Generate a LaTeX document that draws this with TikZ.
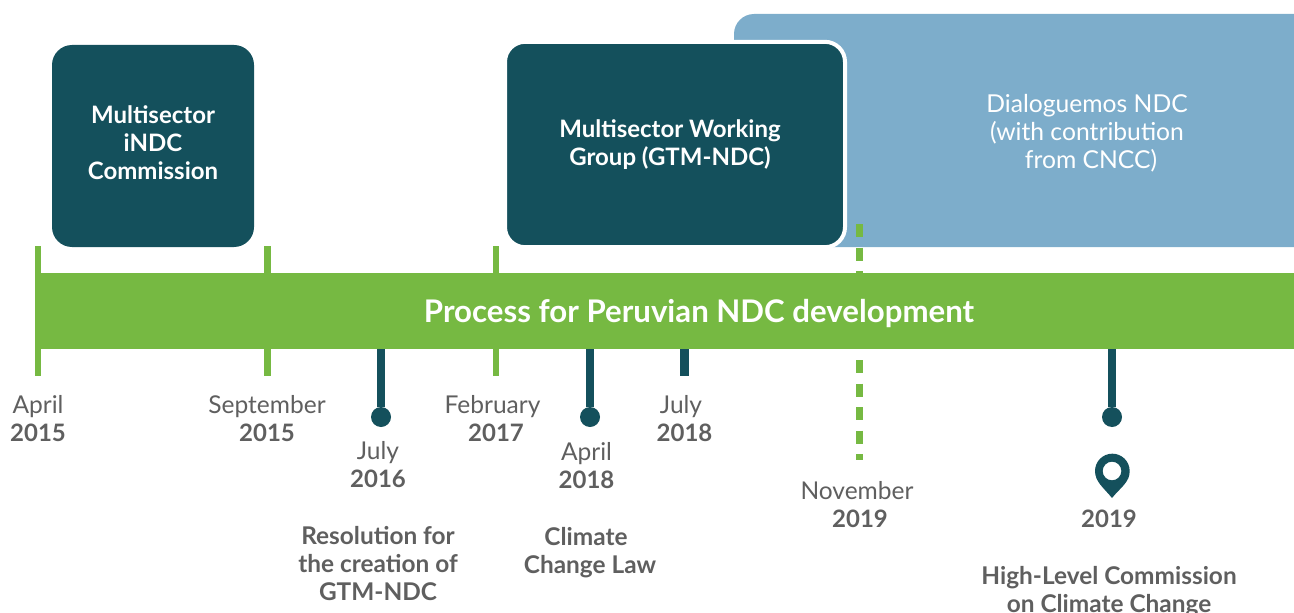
\documentclass[tikz,border=0pt]{standalone}
\usepackage{fontspec}
\setmainfont{Lato}
\definecolor{dk}{HTML}{14505C}
\definecolor{bl}{HTML}{7DADCB}
\definecolor{gr}{HTML}{76B942}
\definecolor{tx}{HTML}{5F5F5F}
\tikzset{
 x=0.75pt,y=-0.75pt,
 darkbox/.style={fill=dk,rounded corners=15pt,inner sep=0pt},
 boxtext/.style={inner sep=0pt,text=white,align=center,font=\fontsize{18}{21}\selectfont\bfseries},
 lab/.style={inner sep=0pt,text=tx,align=center,font=\fontsize{18.4}{20.5}\selectfont},
 hd/.style={inner sep=0pt,text=tx,align=center,font=\fontsize{18}{20.5}\selectfont\bfseries},
 note/.style={inner sep=0pt,text=tx,align=center,font=\fontsize{18.3}{21}\selectfont\bfseries},
 tickline/.style={gr,line width=5pt},
 dashline/.style={gr,line width=5pt,dash pattern=on 9.75pt off 7.9pt},
 stemline/.style={dk,line width=6.6pt},
 pindot/.style={circle,fill=dk,minimum size=15pt,inner sep=0pt},
}
\begin{document}
\begin{tikzpicture}
\useasboundingbox (0,0) rectangle (1294,613);
\fill[bl] (1294,247) -- (734,247) -- (734,34) arc[start angle=180,end angle=90,radius=15pt] -- (1294,14) -- cycle;
\node[inner sep=0pt,text=white,align=center,font=\fontsize{18.5}{21}\selectfont] (dn) at (1087,133) {Dialoguemos NDC\\(with contribution\\\hspace*{6pt}from CNCC)};
\node[darkbox,minimum width=151.5pt,minimum height=151.5pt] (b1) at (153,146) {};
\node[boxtext] (b1t) at (153,143) {Multisector\\iNDC\\Commission};
\node[darkbox,draw=white,line width=3pt,minimum width=255pt,minimum height=154pt] (b2) at (675,144.5) {};
\node[boxtext] (b2t) at (670,145) {Multisector Working\\Group (GTM-NDC)};
\coordinate (t1a) at (38,246); \coordinate (t1b) at (38,376);
\coordinate (t2a) at (267.5,246); \coordinate (t2b) at (267.5,376);
\coordinate (t3a) at (496,246); \coordinate (t3b) at (496,376);
\coordinate (d1a) at (859.5,224); \coordinate (d1b) at (859.5,273);
\coordinate (d2a) at (859.5,360); \coordinate (d2b) at (859.5,460);
\draw[tickline] (t1a) -- (t1b);
\draw[tickline] (t2a) -- (t2b);
\draw[tickline] (t3a) -- (t3b);
\draw[dashline] (d1a) -- (d1b);
\draw[dashline] (d2a) -- (d2b);
\node[fill=gr,inner sep=0pt,minimum width=944.25pt,minimum height=57pt,anchor=north west] (bar) at (35,273) {};
\node[inner sep=0pt,text=white,font=\fontsize{23.4}{26}\selectfont\bfseries] (bart) at (699,314) {Process for Peruvian NDC development};
\node[pindot] (p1) at (381,417) {};
\node[pindot] (p2) at (590,417) {};
\node[pindot] (p3) at (1112,417) {};
\coordinate (p4) at (684.5,376);
\coordinate (s1) at (381,349); \coordinate (s2) at (590,349); \coordinate (s3) at (1112,349); \coordinate (s4) at (684.5,349);
\draw[stemline] (s1) -- (p1);
\draw[stemline] (s2) -- (p2);
\draw[stemline] (s3) -- (p3);
\draw[stemline] (s4) -- (p4);
% pin
\fill[dk,even odd rule] (1112,498) .. controls (1104,488) and (1095,482) .. (1095,471) arc[start angle=180,end angle=0,radius=13pt] .. controls (1130,482) and (1120,488) .. (1112,498) -- cycle (1112,471) circle[radius=7pt];
% labels
\node[lab] (l1) at (38,407) {April};
\node[hd] (y1) at (38,432.5) {2015};
\node[lab] (l2) at (267,407) {September};
\node[hd] (y2) at (267,432.5) {2015};
\node[lab] (l3) at (378,453) {July};
\node[hd] (y3) at (378,478.5) {2016};
\node[lab] (l4) at (492.5,407) {February};
\node[hd] (y4) at (496,432.5) {2017};
\node[lab] (l5) at (586.5,454) {April};
\node[hd] (y5) at (586.5,479.5) {2018};
\node[lab] (l6) at (681,407) {July};
\node[hd] (y6) at (684.5,432.5) {2018};
\node[lab] (l7) at (857,491) {November};
\node[hd] (y7) at (860,518.5) {2019};
\node[hd] (y8) at (1109,519) {2019};
\node[note] (r1) at (378,564) {Resolution for\\the creation of\\GTM-NDC};
\node[note] (r2) at (590,553) {\hspace*{-6pt}Climate\\Change Law};
\node[note] (r3) at (1109,592) {High-Level Commission\\on Climate Change};
\end{tikzpicture}
\end{document}
